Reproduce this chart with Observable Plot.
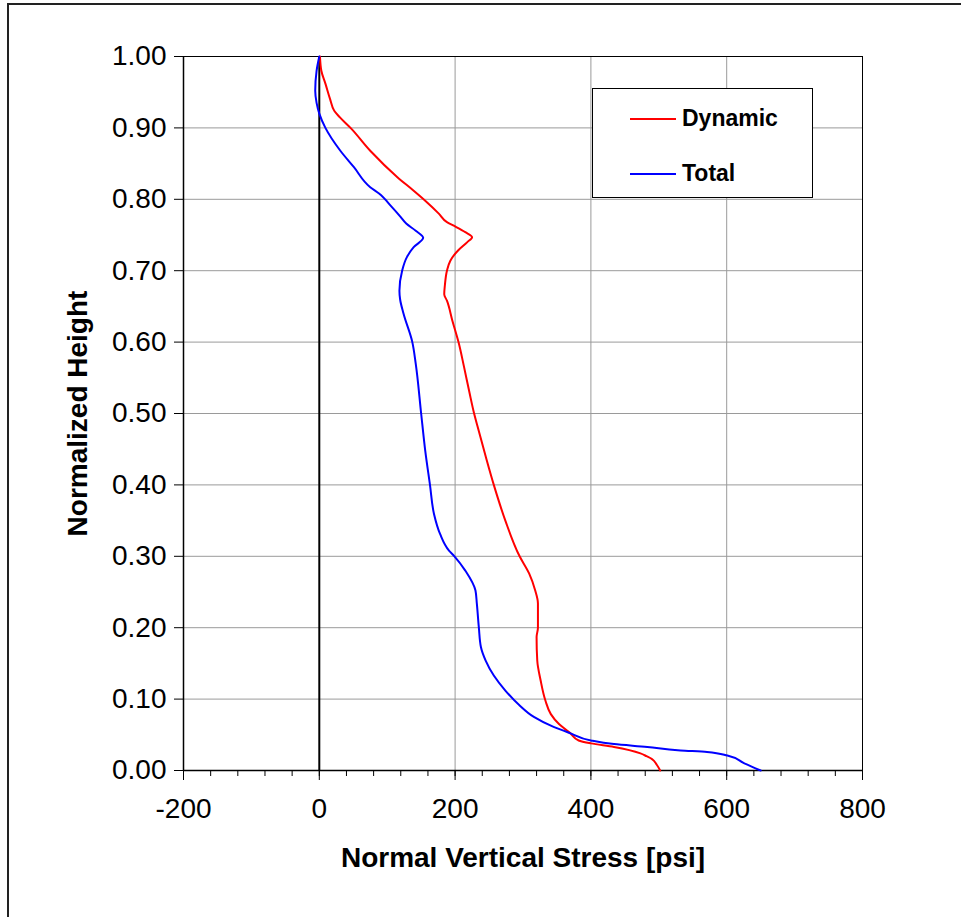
<!DOCTYPE html>
<html>
<head>
<meta charset="utf-8">
<script src="https://cdn.jsdelivr.net/npm/d3@7"></script>
<script src="https://cdn.jsdelivr.net/npm/@observablehq/plot@0.6"></script>
<style>
  body { margin: 0; background: white; }
  #wrap { position: relative; width: 961px; height: 917px; overflow: hidden; font-family: "Liberation Sans", Arial, sans-serif; }
  #outer { position: absolute; left: 7px; top: 3px; width: 1000px; height: 1000px; border-left: 2px solid #222; border-top: 2px solid #222; pointer-events: none; }
  #legend { position: absolute; left: 592px; top: 88px; width: 219px; height: 108px; border: 1px solid #000; background: white; }
  .item { position: absolute; left: 37px; display: flex; align-items: center; font-weight: bold; font-size: 23px; color: #000; line-height: 1; }
  .swatch { width: 46px; height: 2px; margin-right: 6px; }
</style>
</head>
<body>
<div id="wrap">
  <div id="chart"></div>
  <div id="outer"></div>
  <div id="legend"></div>
</div>
<script>
// ---- data ----
const seriesNames = ["Dynamic", "Total"];
const seriesColors = ["#ff0000", "#0000ff"];

const dynamicHeight = [1.000,0.980,0.962,0.940,0.924,0.915,0.900,0.868,0.831,0.812,0.798,0.780,0.768,0.763,0.754,0.747,0.740,0.728,0.714,0.700,0.680,0.667,0.658,0.630,0.600,0.566,0.530,0.500,0.482,0.440,0.400,0.350,0.300,0.276,0.252,0.234,0.200,0.187,0.154,0.126,0.098,0.079,0.065,0.052,0.042,0.038,0.033,0.024,0.020,0.016,0.008,0.000];
const dynamicStress = [1,3,9,16,22,30,46,75,115,139,156,176,188,198,215,225,218,204,193,188,185,184,188,196,205,213,221,228,233,245,257,274,295,309,318,322,322,320,321,326,333,341,353,370,382,400,434,473,482,490,497,502];

const totalHeight = [1.000,0.980,0.952,0.935,0.920,0.900,0.868,0.845,0.817,0.808,0.789,0.775,0.766,0.756,0.746,0.733,0.719,0.700,0.672,0.660,0.640,0.600,0.570,0.500,0.448,0.400,0.359,0.331,0.308,0.300,0.280,0.252,0.234,0.200,0.173,0.154,0.133,0.112,0.092,0.075,0.061,0.052,0.042,0.037,0.033,0.028,0.026,0.021,0.010,0.000];
const totalStress = [0,-4,-6,-4,0,9,31,51,75,88,107,120,128,142,153,139,129,122,118,119,124,137,142,150,156,163,169,178,191,199,215,230,232,235,238,245,257,274,294,316,345,370,400,434,483,532,571,601,626,650];

const xTicks = [-200, 0, 200, 400, 600, 800];
const xMinorTicks = d3.range(-200, 801, 40);
const xGrid = [200, 400, 600];
const yTicks = [0, 0.1, 0.2, 0.3, 0.4, 0.5, 0.6, 0.7, 0.8, 0.9, 1.0];
const xTitle = "Normal Vertical Stress [psi]";
const yTitle = "Normalized Height";

// ---- build table ----
const rows = [];
dynamicHeight.forEach((h, i) => rows.push({series: seriesNames[0], h, v: dynamicStress[i]}));
totalHeight.forEach((h, i) => rows.push({series: seriesNames[1], h, v: totalStress[i]}));

const chart = Plot.plot({
  width: 961,
  height: 917,
  marginLeft: 183,
  marginRight: 99,
  marginTop: 56,
  marginBottom: 147,
  style: {fontFamily: "'Liberation Sans', Arial, sans-serif", fontSize: "28px", background: "white", color: "#000"},
  x: {domain: [-200, 800], nice: false},
  y: {domain: [0, 1], nice: false},
  color: {domain: seriesNames, range: seriesColors},
  marks: [
    Plot.gridY(yTicks, {stroke: "#9a9a9a", strokeOpacity: 1, strokeWidth: 1}),
    Plot.gridX(xGrid, {stroke: "#9a9a9a", strokeOpacity: 1, strokeWidth: 1}),
    Plot.frame({stroke: "#000", strokeWidth: 1}),
    Plot.ruleX([0], {stroke: "#000", strokeWidth: 2}),
    Plot.ruleX([-200], {stroke: "#000", strokeWidth: 1.5}),
    Plot.ruleY([0], {stroke: "#000", strokeWidth: 1.5}),
    Plot.axisY({ticks: yTicks, tickFormat: d3.format(".2f"), tickSize: 9, tickPadding: 8, label: null, fontSize: 28, stroke: "#000"}),
    Plot.axisX({ticks: xMinorTicks, tickSize: 6, text: null, label: null, stroke: "#000"}),
    Plot.axisX({ticks: xTicks, tickSize: 10, tickPadding: 18, tickFormat: d => String(d), label: null, fontSize: 28, stroke: "#000"}),
    Plot.line(rows, {x: "v", y: "h", z: "series", stroke: "series", strokeWidth: 2, curve: "monotone-y"}),
    Plot.text([xTitle], {text: d => d, frameAnchor: "bottom", dy: 96, fontSize: 28, fontWeight: "bold", fill: "#000"}),
    Plot.text([yTitle], {text: d => d, frameAnchor: "left", textAnchor: "middle", dx: -105, rotate: -90, fontSize: 28, fontWeight: "bold", fill: "#000"})
  ]
});
document.getElementById("chart").appendChild(chart);

// ---- legend ----
const legend = document.getElementById("legend");
const legendTops = [18, 73];
seriesNames.forEach((name, i) => {
  const item = document.createElement("div");
  item.className = "item";
  item.style.top = legendTops[i] + "px";
  const sw = document.createElement("div");
  sw.className = "swatch";
  sw.style.background = seriesColors[i];
  const label = document.createElement("span");
  label.textContent = name;
  item.appendChild(sw);
  item.appendChild(label);
  legend.appendChild(item);
});
</script>
</body>
</html>
